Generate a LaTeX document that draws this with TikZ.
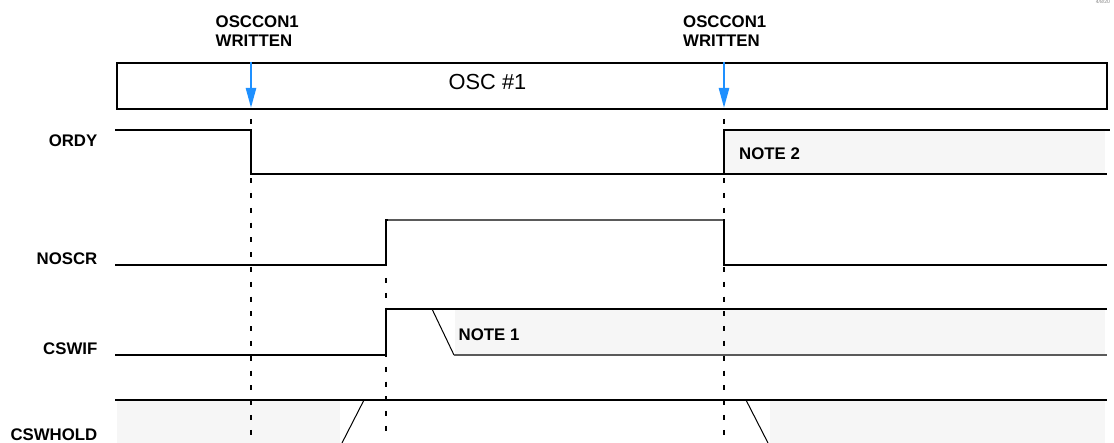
\documentclass[tikz,border=0pt]{standalone}
\usepackage{fontspec}
\setmainfont{Liberation Sans}
\usetikzlibrary{arrows.meta}
\definecolor{arrowblue}{RGB}{30,144,255}
\definecolor{notegray}{RGB}{246,246,246}
\definecolor{softgray}{RGB}{90,90,90}
\begin{document}
\begin{tikzpicture}[x=1pt,y=-1pt,
  sig/.style={line width=2.2pt, line join=miter, draw=black},
  thinline/.style={line width=1pt, draw=black},
  guide/.style={line width=2pt, draw=black, dash pattern=on 5pt off 9.8pt},
  lbl/.style={font=\fontsize{16.8}{19}\selectfont\bfseries, inner sep=0pt},
  notearea/.style={fill=notegray, draw=none},
  writearrow/.style={draw=arrowblue, line width=2.5pt, -{Triangle[length=20pt,width=10pt]}}
]
\useasboundingbox (0,0) rectangle (1114,443);
\clip (0,0) rectangle (1114,443);

% shaded note areas
\fill[notearea] (724,130) rectangle (1105,174);
\fill[notearea] (455,309) rectangle (1105,355);
\fill[notearea] (117,400) rectangle (340,443);
\fill[notearea] (770,400) rectangle (1105,443);

% dashed guide lines
\coordinate (g1a) at (251,119); \coordinate (g1b) at (251,435);
\coordinate (g2a) at (386,278); \coordinate (g2b) at (386,435);
\coordinate (g3a) at (724,119); \coordinate (g3b) at (724,435);
\draw[guide] (g1a) -- (g1b);
\draw[guide] (g2a) -- (g2b);
\draw[guide] (g3a) -- (g3b);

% OSC box
\node[draw, line width=2.2pt, minimum width=990pt, minimum height=46pt, inner sep=0pt, anchor=north west] (oscbox) at (116,62) {};
\node[font=\fontsize{21.8}{24}\selectfont, inner sep=0pt, anchor=base] (osclbl) at (487.5,90) {OSC \#1};

% write arrows
\coordinate (w1top) at (251,62); \coordinate (w1bot) at (251,108);
\coordinate (w2top) at (724,62); \coordinate (w2bot) at (724,108);
\draw[writearrow] (w1top) -- (w1bot);
\draw[writearrow] (w2top) -- (w2bot);

% ORDY
\draw[sig] (115,130) -- (251,130) -- (251,174) -- (1107,174);
\draw[sig] (724,174) -- (724,130) -- (1110,130);

% NOSCR
\draw[sig] (115,265) -- (386,265) -- (386,220) -- (724,220) -- (724,265) -- (1107,265);
\draw[line width=2pt, draw=softgray] (387.5,220) -- (722.5,220);

% CSWIF
\draw[sig] (115,355) -- (386,355) -- (386,309) -- (1107,309);
\draw[thinline] (432,309) -- (454,355);
\draw[line width=1.5pt, draw=softgray] (454,355) -- (1107,355);

% CSWHOLD
\draw[sig] (115,400) -- (1107,400);
\draw[thinline] (364,400) -- (342,443);
\draw[thinline] (746,400) -- (768,443);

% labels
\node[lbl, anchor=base west] (wr1a) at (215.5,27.3) {OSCCON1};
\node[lbl, anchor=base west] (wr1b) at (215.5,46.7) {WRITTEN};
\node[lbl, anchor=base west] (wr2a) at (683,27.3) {OSCCON1};
\node[lbl, anchor=base west] (wr2b) at (683,46.7) {WRITTEN};

\node[lbl, anchor=base east] (lordy) at (97.5,146.7) {ORDY};
\node[lbl, anchor=base east] (lnoscr) at (97.5,265) {NOSCR};
\node[lbl, anchor=base east] (lcswif) at (97.5,355) {CSWIF};
\node[lbl, anchor=base east] (lcswhold) at (97.5,440) {CSWHOLD};

\node[lbl, anchor=base west] (note2) at (739,160) {NOTE 2};
\node[lbl, anchor=base west] (note1) at (458.5,340.7) {NOTE 1};

\node[font=\fontsize{5}{6}\selectfont, text=gray, anchor=base east, inner sep=0pt] (date) at (1110,4) {4/8/20};
\end{tikzpicture}
\end{document}
